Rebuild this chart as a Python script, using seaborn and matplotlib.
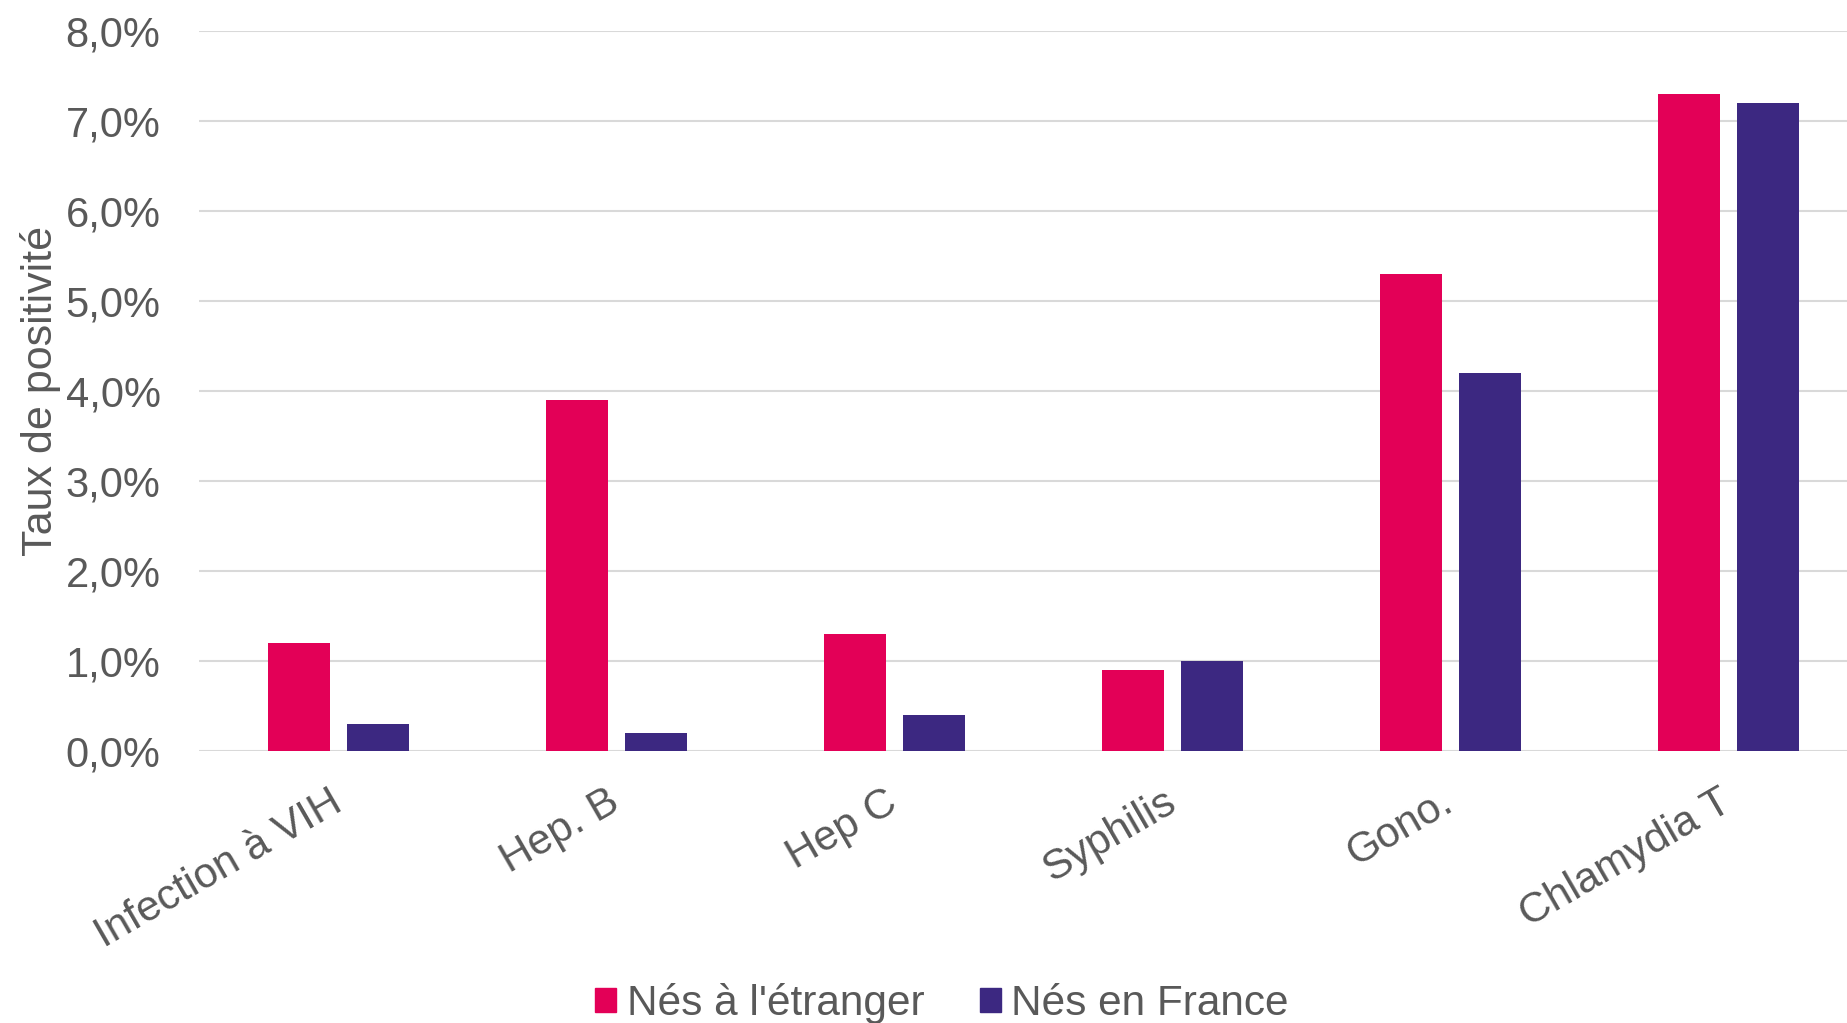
import pandas as pd
import matplotlib.pyplot as plt
import matplotlib.transforms as mtransforms
import seaborn as sns
from matplotlib.ticker import FuncFormatter

# data (%)
categories = ['Infection à VIH', 'Hep. B', 'Hep C', 'Syphilis', 'Gono.', 'Chlamydia T']
nes_etranger = [1.2, 3.9, 1.3, 0.9, 5.3, 7.3]
nes_france = [0.3, 0.2, 0.4, 1.0, 4.2, 7.2]
series_names = ["Nés à l'étranger", 'Nés en France']
colors = ['#E30057', '#3C2881']

data = pd.DataFrame({
    'Catégorie': categories * 2,
    'Groupe': [series_names[0]] * len(categories) + [series_names[1]] * len(categories),
    'Taux': nes_etranger + nes_france,
})

sns.set_style('white')
plt.rcParams['font.family'] = ['Liberation Sans', 'DejaVu Sans']
text_color = '#595959'

fig = plt.figure(figsize=(18.47, 10.23), dpi=100)
ax = fig.add_axes([0.108, 0.2654, 0.903, 0.7046])

sns.barplot(data=data, x='Catégorie', y='Taux', hue='Groupe',
            palette=colors, saturation=1, width=0.568, gap=0.208, ax=ax,
            edgecolor='none', legend=False)

ax.set_ylim(0, 8)
ax.set_yticks(range(0, 9))
ax.yaxis.set_major_formatter(FuncFormatter(lambda v, p: f'{v:.1f}'.replace('.', ',') + '%'))
ax.grid(axis='y', color='#D9D9D9', linewidth=1.5)
ax.set_axisbelow(True)
for s in ax.spines.values():
    s.set_visible(False)

ax.tick_params(axis='y', labelsize=30, labelcolor=text_color, length=0, pad=28)
ax.tick_params(axis='x', labelsize=30.5, labelcolor=text_color, length=0, pad=22)
shift = mtransforms.ScaledTranslation(-0.1, 0, fig.dpi_scale_trans)
for lbl in ax.get_xticklabels():
    lbl.set_rotation(30)
    lbl.set_ha('right')
    lbl.set_rotation_mode('anchor')
    lbl.set_transform(lbl.get_transform() + shift)

ax.set_xlabel('')
ax.set_ylabel('Taux de positivité', fontsize=31, color=text_color, labelpad=3)

handles = [plt.Rectangle((0, 0), 1, 1, color=c) for c in colors]
fig.legend(handles, series_names, loc='center', bbox_to_anchor=(0.51, 0.019),
           ncol=2, frameon=False, fontsize=30.5, labelcolor=text_color,
           handlelength=0.5, handleheight=0.5, handletextpad=0.25, columnspacing=1.3)

fig.savefig('out.png', dpi=100)
